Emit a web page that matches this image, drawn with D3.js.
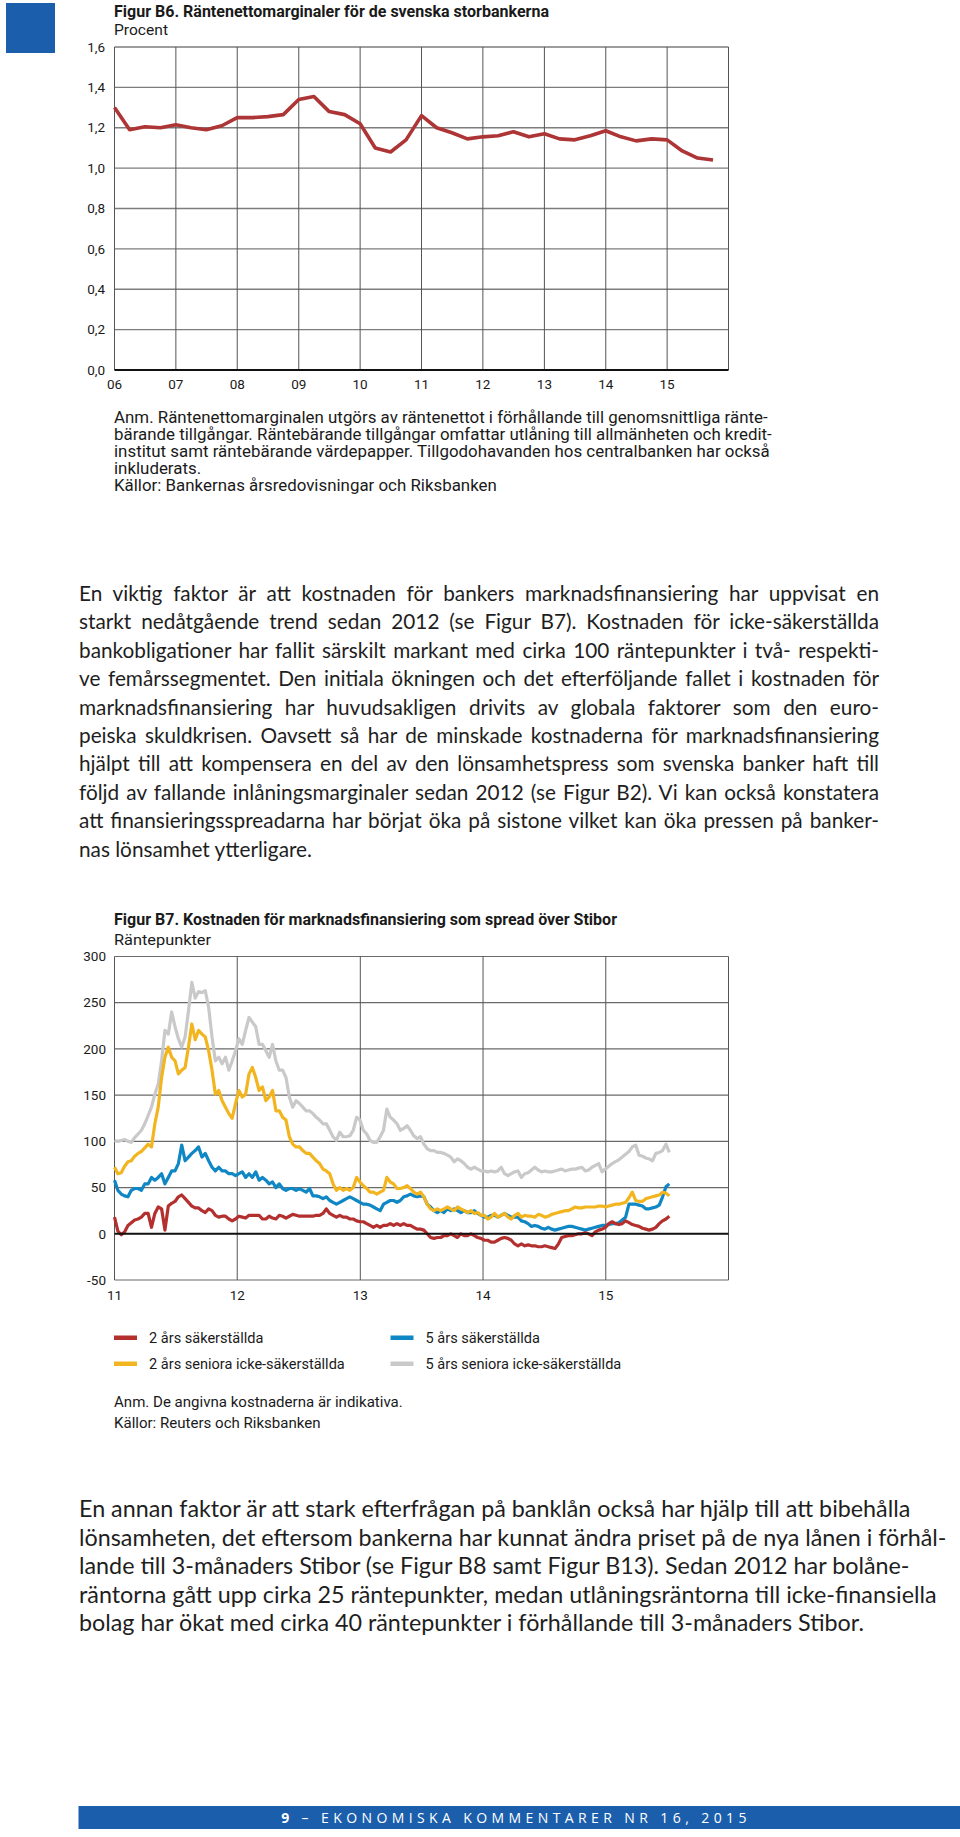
<!DOCTYPE html>
<html><head><meta charset="utf-8">
<script src="https://cdn.jsdelivr.net/npm/d3@7"></script>
<style>
body{margin:0;background:#fff;}
svg{display:block;}
</style></head><body>
<svg id="page" width="960" height="1837"></svg>
<script>
// ---------- DATA ----------
// Figur B6: quarterly net interest margin, first quarter = 2006-01
const b6Start = new Date(2006, 0, 1);
const b6Margin = [1.30,1.19,1.205,1.20,1.215,1.20,1.19,1.21,1.25,1.25,1.255,1.265,1.34,1.355,1.28,1.265,1.22,1.10,1.08,1.14,
  1.26,1.20,1.175,1.145,1.155,1.16,1.18,1.155,1.17,1.145,1.14,1.16,1.185,1.155,1.135,1.145,1.14,1.085,1.05,1.04];
const b6YearTicks = [2006,2007,2008,2009,2010,2011,2012,2013,2014,2015];
const b6YearLabels = ["06","07","08","09","10","11","12","13","14","15"];
const b6ValueTicks = [0,0.2,0.4,0.6,0.8,1.0,1.2,1.4,1.6];

// Figur B7: spreads over Stibor, readings every 10 days from 2011-01-01
const b7Start = new Date(2011, 0, 1);
const b7StepDays = 10;
const sak2 = [18,3,-1,2,9,12,15,16,18,22,22,7,22,29,27,4,30,33,35,40,42,38,34,30,28,28,25,23,27,25,20,18,19,19,16,14,16,19,18,17,20,20,20,20,16,16,19,17,16,20,19,17,19,21,20,19,19,19,19,19,20,20,
  22,27,22,20,18,20,18,18,16,16,14,13,13,11,9,7,9,7,9,9,11,9,11,9,11,9,9,7,5,5,4,0,-4,-5,-4,-4,-2,-2,0,-2,-4,0,-2,-2,0,-2,-4,-5,-7,-7,-9,-9,-7,-5,-4,-5,-7,-11,-13,-11,-13,
  -12,-13,-13,-14,-14,-13,-14,-15,-16,-11,-4,-3,-2,-2,-1,0,0,1,0,-2,2,4,5,7,11,13,11,10,11,14,12,10,9,8,6,5,4,5,7,11,14,16,19];
const senior2 = [72,65,66,73,78,79,84,87,89,93,97,94,119,137,169,191,202,191,187,173,177,180,202,227,210,220,216,213,198,177,151,155,144,137,130,125,141,155,148,151,173,180,169,155,159,144,148,155,133,133,126,123,105,97,94,94,90,87,87,83,79,76,
  70,68,65,54,47,50,47,49,47,50,61,56,52,49,45,45,43,45,47,61,56,54,49,49,50,52,49,45,43,45,40,32,27,25,27,25,27,29,27,25,29,27,25,23,25,22,23,20,20,16,18,22,18,20,22,18,16,20,22,18,20,
  19,19,18,21,20,18,19,21,22,23,24,25,25,27,29,28,28,29,29,29,29,30,30,29,30,31,32,32,33,34,39,45,36,35,35,38,39,40,41,42,45,44,41];
const sak5 = [58,47,43,41,40,47,49,49,47,54,54,61,58,61,65,54,61,68,68,76,96,79,83,87,90,94,83,87,79,72,68,72,68,68,65,65,63,65,67,61,65,61,67,58,61,58,54,56,50,54,49,47,49,49,47,49,47,45,49,41,41,40,
  38,40,36,34,32,34,36,38,40,38,36,34,32,32,31,29,27,25,32,34,36,36,34,36,40,41,43,41,40,41,40,32,29,25,23,25,23,27,25,27,25,23,25,23,23,25,22,20,18,18,20,20,18,20,22,20,18,18,18,14,13,
  11,8,9,8,6,5,7,5,4,5,6,7,8,8,7,6,5,4,5,6,7,8,9,9,10,11,11,12,15,18,32,32,32,31,30,27,27,28,29,31,40,51,54];
const senior5 = [101,100,101,102,100,99,104,108,112,119,128,137,151,162,187,220,216,240,224,211,202,213,241,272,255,262,261,263,245,213,187,191,184,191,177,187,198,211,205,220,234,229,224,205,205,198,191,205,187,177,177,169,148,137,144,141,137,133,133,130,126,123,
  119,119,112,105,101,110,105,105,106,112,126,123,112,108,101,99,99,105,112,135,126,123,119,112,114,117,112,106,103,105,97,92,90,90,88,88,87,85,83,78,81,79,76,72,70,72,70,68,68,67,68,67,68,72,65,63,65,67,68,61,65,
  66,69,72,69,67,68,67,67,68,69,70,68,69,70,70,71,72,68,69,72,74,76,67,70,73,76,78,80,83,86,89,94,96,85,84,82,81,79,87,88,90,97,88];
const b7YearTicks = [2011,2012,2013,2014,2015];
const b7YearLabels = ["11","12","13","14","15"];
const b7ValueTicks = [-50,0,50,100,150,200,250,300];
const b7SeriesNames = ["2 års säkerställda","2 års seniora icke-säkerställda","5 års säkerställda","5 års seniora icke-säkerställda"];

// ---------- STYLE ----------
const chartFont = "'Roboto','DejaVu Sans',sans-serif";
const bodyFont = "'Lato','Open Sans',sans-serif";
const riksBlue = "#1b5eab";
const colRed = "#b3302f", colYellow = "#f2b51f", colBlue = "#0f87c4", colGrey = "#c9c9c9";

const svg = d3.select("#page");

function label(g, x, y, str, o = {}) {
  const t = g.append("text").attr("x", x).attr("y", y).text(str)
    .attr("font-family", o.font || chartFont)
    .attr("font-size", o.size || 14)
    .attr("fill", o.fill || "#1a1a1a")
    .attr("font-weight", o.weight || "normal")
    .attr("text-anchor", o.anchor || "start");
  if (o.width) t.attr("textLength", o.width).attr("lengthAdjust", "spacingAndGlyphs");
  return t;
}
// font size giving a reference string a given width
function fitSize(str, font, weight, target) {
  const t = svg.append("text").attr("font-family", font).attr("font-weight", weight || "normal")
    .attr("font-size", 20).text(str);
  const w = t.node().getComputedTextLength();
  t.remove();
  return 20 * target / w;
}

svg.append("rect").attr("x", 6).attr("y", 3).attr("width", 49).attr("height", 50).attr("fill", riksBlue);

// ---------- FIGUR B6 ----------
{
  const g = svg.append("g");
  const x = d3.scaleTime().domain([new Date(2006,0,1), new Date(2016,0,1)]).range([114.5, 728.5]);
  const y = d3.scaleLinear().domain([0, 1.6]).range([370, 47]);
  label(g, 114, 17, "Figur B6. Räntenettomarginaler för de svenska storbankerna", {size: 16, weight: "bold", width: 435});
  label(g, 114, 35, "Procent", {size: 14, width: 54});

  g.append("g").selectAll("line").data(b6ValueTicks.filter(d => d > 0)).join("line")
    .attr("x1", x.range()[0]).attr("x2", x.range()[1])
    .attr("y1", d => y(d)).attr("y2", d => y(d))
    .attr("stroke", "#7d7d7d").attr("stroke-width", 1.3);
  const vt = b6YearTicks.concat([2016]);
  g.append("g").selectAll("line").data(vt).join("line")
    .attr("x1", d => x(new Date(d,0,1))).attr("x2", d => x(new Date(d,0,1)))
    .attr("y1", y(1.6)).attr("y2", y(0))
    .attr("stroke", "#555").attr("stroke-width", 1);
  g.append("line").attr("x1", x.range()[0]).attr("x2", x.range()[1]).attr("y1", y(0)).attr("y2", y(0))
    .attr("stroke", "#111").attr("stroke-width", 2);

  const fmt = d => d3.format(".1f")(d).replace(".", ",");
  g.append("g").selectAll("text").data(b6ValueTicks).join("text")
    .attr("x", 105).attr("y", d => y(d)).attr("dy", "0.35em").attr("text-anchor", "end")
    .attr("font-family", chartFont).attr("font-size", 13.5).attr("fill", "#1a1a1a").text(fmt);
  g.append("g").selectAll("text").data(b6YearTicks).join("text")
    .attr("x", d => x(new Date(d,0,1))).attr("y", 389).attr("text-anchor", "middle")
    .attr("font-family", chartFont).attr("font-size", 13.5).attr("fill", "#1a1a1a")
    .text((d, i) => b6YearLabels[i]);

  const pts = b6Margin.map((v, i) => ({d: d3.timeMonth.offset(b6Start, 3 * i), v}));
  g.append("path").datum(pts)
    .attr("d", d3.line().x(p => x(p.d)).y(p => y(p.v)))
    .attr("fill", "none").attr("stroke", "#ad3535").attr("stroke-width", 3.6)
    .attr("stroke-linejoin", "round");

  const notes = [
    "Anm. Räntenettomarginalen utgörs av räntenettot i förhållande till genomsnittliga ränte-",
    "bärande tillgångar. Räntebärande tillgångar omfattar utlåning till allmänheten och kredit-",
    "institut samt räntebärande värdepapper. Tillgodohavanden hos centralbanken har också",
    "inkluderats.",
    "Källor: Bankernas årsredovisningar och Riksbanken"
  ];
  const ns = fitSize(notes[0], chartFont, "normal", 654);
  notes.forEach((n, i) => label(g, 114, 423 + 17 * i, n, {size: ns}));
}

// ---------- PARAGRAPHS ----------
function paragraph(lines, x0, y0, lh, size, width, justify) {
  const g = svg.append("g");
  lines.forEach((s, i) => {
    const t = g.append("text").attr("x", x0).attr("y", y0 + lh * i).text(s)
      .attr("font-family", bodyFont).attr("font-size", size).attr("fill", "#1e1e1e");
    if (justify && i < lines.length - 1) {
      const w = t.node().getComputedTextLength();
      const n = (s.match(/ /g) || []).length;
      if (n > 0) t.style("word-spacing", ((width - w) / n) + "px");
    }
  });
}
const para1 = [
  "En viktig faktor är att kostnaden för bankers marknadsfinansiering har uppvisat en",
  "starkt nedåtgående trend sedan 2012 (se Figur B7). Kostnaden för icke-säkerställda",
  "bankobligationer har fallit särskilt markant med cirka 100 räntepunkter i två- respekti-",
  "ve femårssegmentet. Den initiala ökningen och det efterföljande fallet i kostnaden för",
  "marknadsfinansiering har huvudsakligen drivits av globala faktorer som den euro-",
  "peiska skuldkrisen. Oavsett så har de minskade kostnaderna för marknadsfinansiering",
  "hjälpt till att kompensera en del av den lönsamhetspress som svenska banker haft till",
  "följd av fallande inlåningsmarginaler sedan 2012 (se Figur B2). Vi kan också konstatera",
  "att finansieringsspreadarna har börjat öka på sistone vilket kan öka pressen på banker-",
  "nas lönsamhet ytterligare."
];
{
  const sizes = para1.slice(0, 9).map(s => fitSize(s, bodyFont, "normal", 780));
  paragraph(para1, 79, 601, 28.4, d3.min(sizes), 800, true);
}

// ---------- FIGUR B7 ----------
{
  const g = svg.append("g");
  const x = d3.scaleTime().domain([new Date(2011,0,1), new Date(2016,0,1)]).range([114.5, 728.5]);
  const y = d3.scaleLinear().domain([-50, 300]).range([1280, 956.5]);
  label(g, 114, 925, "Figur B7. Kostnaden för marknadsfinansiering som spread över Stibor", {size: 16, weight: "bold", width: 503});
  label(g, 114, 945, "Räntepunkter", {size: 14, width: 97});

  g.append("g").selectAll("line").data(b7ValueTicks.filter(d => d !== 0)).join("line")
    .attr("x1", x.range()[0]).attr("x2", x.range()[1])
    .attr("y1", d => y(d)).attr("y2", d => y(d))
    .attr("stroke", "#6a6a6a").attr("stroke-width", 1.2);
  const vt = b7YearTicks.concat([2016]);
  g.append("g").selectAll("line").data(vt).join("line")
    .attr("x1", d => x(new Date(d,0,1))).attr("x2", d => x(new Date(d,0,1)))
    .attr("y1", y(300)).attr("y2", y(-50))
    .attr("stroke", "#555").attr("stroke-width", 1);

  g.append("g").selectAll("text").data(b7ValueTicks).join("text")
    .attr("x", 106).attr("y", d => y(d)).attr("dy", "0.35em").attr("text-anchor", "end")
    .attr("font-family", chartFont).attr("font-size", 13.5).attr("fill", "#1a1a1a").text(d => d);
  g.append("g").selectAll("text").data(b7YearTicks).join("text")
    .attr("x", d => x(new Date(d,0,1))).attr("y", 1300).attr("text-anchor", "middle")
    .attr("font-family", chartFont).attr("font-size", 13.5).attr("fill", "#1a1a1a")
    .text((d, i) => b7YearLabels[i]);

  const series = [
    {vals: senior5, color: colGrey},
    {vals: sak5, color: colBlue},
    {vals: senior2, color: colYellow},
    {vals: sak2, color: colRed}
  ];
  const line = d3.line().x(p => x(p.d)).y(p => y(p.v));
  series.forEach(s => {
    const pts = s.vals.map((v, i) => ({d: d3.timeDay.offset(b7Start, b7StepDays * i), v}));
    g.append("path").datum(pts).attr("d", line)
      .attr("fill", "none").attr("stroke", s.color).attr("stroke-width", 3.2)
      .attr("stroke-linejoin", "round");
  });
  g.append("line").attr("x1", x.range()[0]).attr("x2", x.range()[1]).attr("y1", y(0)).attr("y2", y(0))
    .attr("stroke", "#111").attr("stroke-width", 2);

  const ls = fitSize(b7SeriesNames[1], chartFont, "normal", 196);
  const leg = [
    {name: b7SeriesNames[0], color: colRed, col: 0, row: 0},
    {name: b7SeriesNames[1], color: colYellow, col: 0, row: 1},
    {name: b7SeriesNames[2], color: colBlue, col: 1, row: 0},
    {name: b7SeriesNames[3], color: colGrey, col: 1, row: 1}
  ];
  const colX = [114, 390.5], rowY = [1337.5, 1363.5];
  leg.forEach(l => {
    g.append("rect").attr("x", colX[l.col]).attr("y", rowY[l.row] - 2).attr("width", 23).attr("height", 4.5).attr("fill", l.color);
    label(g, colX[l.col] + 35, rowY[l.row] + 5, l.name, {size: ls});
  });

  const nSize = fitSize("Anm. De angivna kostnaderna är indikativa.", chartFont, "normal", 289);
  label(g, 114, 1407, "Anm. De angivna kostnaderna är indikativa.", {size: nSize});
  label(g, 114, 1428, "Källor: Reuters och Riksbanken", {size: nSize});
}

const para2 = [
  "En annan faktor är att stark efterfrågan på banklån också har hjälp till att bibehålla",
  "lönsamheten, det eftersom bankerna har kunnat ändra priset på de nya lånen i förhål-",
  "lande till 3-månaders Stibor (se Figur B8 samt Figur B13). Sedan 2012 har bolåne-",
  "räntorna gått upp cirka 25 räntepunkter, medan utlåningsräntorna till icke-finansiella",
  "bolag har ökat med cirka 40 räntepunkter i förhållande till 3-månaders Stibor."
];
paragraph(para2, 79, 1517, 28.6, fitSize(para2[1], bodyFont, "normal", 868), 0, false);

// ---------- FOOTER ----------
svg.append("rect").attr("x", 78.5).attr("y", 1806).attr("width", 881.5).attr("height", 23).attr("fill", riksBlue);
{
  const t = svg.append("text").attr("x", 516).attr("y", 1823).attr("text-anchor", "middle")
    .attr("font-family", "'Open Sans','Lato',sans-serif").attr("font-size", 14).attr("fill", "#fff")
    .attr("letter-spacing", 4.4);
  t.append("tspan").attr("font-weight", "bold").text("9");
  t.append("tspan").text(" – EKONOMISKA KOMMENTARER NR 16, 2015");
}
</script>
</body></html>
